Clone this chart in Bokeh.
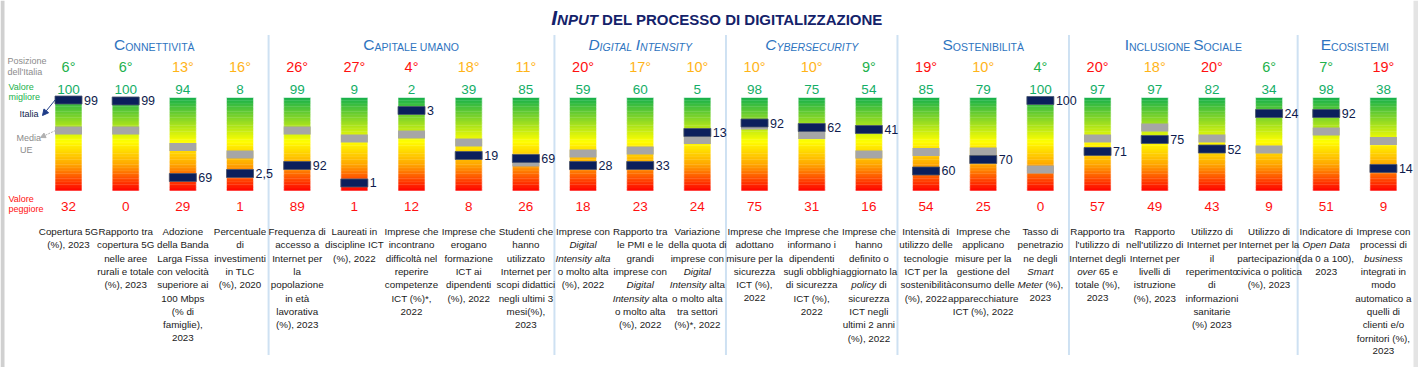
from bokeh.plotting import figure
from bokeh.models import ColumnDataSource, Range1d, Arrow, NormalHead
from bokeh.core.properties import value
from bokeh.embed import file_html
from bokeh.resources import INLINE

FONT = "Liberation Sans"

# ---------------- DATA ----------------
group_names = ["Connettività", "Capitale umano", "Digital Intensity", "Cybersecurity",
               "Sostenibilità", "Inclusione Sociale", "Ecosistemi"]
group_sizes = [4, 5, 3, 3, 3, 4, 2]
group_italic = [False, False, True, True, False, False, False]

rank_italia = [6, 6, 13, 16, 26, 27, 4, 18, 11, 20, 17, 10, 10, 10, 9, 19, 10, 4, 20, 18, 20, 6, 7, 19]
rank_band = ["alta", "alta", "media", "media", "bassa", "bassa", "bassa", "media", "media", "bassa",
             "media", "media", "media", "media", "alta", "bassa", "media", "alta", "bassa", "media",
             "bassa", "alta", "alta", "bassa"]
valore_migliore = [100, 100, 94, 8, 99, 9, 2, 39, 85, 59, 60, 5, 98, 75, 54, 85, 79, 100, 97, 97, 82, 34, 98, 38]
valore_peggiore = [32, 0, 29, 1, 89, 1, 12, 8, 26, 18, 23, 24, 75, 31, 16, 54, 25, 0, 57, 49, 43, 9, 51, 9]
valore_italia = ["99", "99", "69", "2,5", "92", "1", "3", "19", "69", "28", "33", "13", "92", "62", "41",
                 "60", "70", "100", "71", "75", "52", "24", "92", "14"]
# position on the normalised scale (0 = valore peggiore, 100 = valore migliore)
score_italia = [97.3, 96.3, 14.4, 18.7, 27.3, 8.6, 86.1, 38.0, 34.8, 27.3, 27.3, 62.6, 72.7, 67.9, 65.8,
                21.4, 33.7, 96.8, 42.2, 55.1, 44.9, 82.9, 82.9, 24.1]
score_media_ue = [64.7, 64.7, 47.1, 39.0, 64.7, 56.1, 60.4, 51.9, 30.5, 40.1, 43.3, 54.5, 70.1, 59.9, 39.0,
                  41.7, 42.2, 23.0, 56.1, 67.9, 56.1, 44.4, 63.6, 53.5]
# words between underscores are set in italics
descrizioni = [
    ["Copertura 5G", "(%), 2023"],
    ["Rapporto tra", "copertura 5G", "nelle aree", "rurali e totale", "(%), 2023"],
    ["Adozione", "della Banda", "Larga Fissa", "con velocità", "superiore ai", "100 Mbps", "(% di", "famiglie),", "2023"],
    ["Percentuale", "di", "investimenti", "in TLC", "(%), 2020"],
    ["Frequenza di", "accesso a", "Internet per", "la", "popolazione", "in età", "lavorativa", "(%), 2023"],
    ["Laureati in", "discipline ICT", "(%), 2022"],
    ["Imprese che", "incontrano", "difficoltà nel", "reperire", "competenze", "ICT (%)*,", "2022"],
    ["Imprese che", "erogano", "formazione", "ICT ai", "dipendenti", "(%), 2022"],
    ["Studenti che", "hanno", "utilizzato", "Internet per", "scopi didattici", "negli ultimi 3", "mesi(%),", "2023"],
    ["Imprese con", "_Digital_", "_Intensity alta_", "o molto alta", "(%), 2022"],
    ["Rapporto tra", "le PMI e le", "grandi", "imprese con", "_Digital_", "_Intensity_ alta", "o molto alta", "(%), 2022"],
    ["Variazione", "della quota di", "imprese con", "_Digital_", "_Intensity_ alta", "o molto alta", "tra settori", "(%)*, 2022"],
    ["Imprese che", "adottano", "misure per la", "sicurezza", "ICT (%),", "2022"],
    ["Imprese che", "informano i", "dipendenti", "sugli obblighi", "di sicurezza", "ICT (%),", "2022"],
    ["Imprese che", "hanno", "definito o", "aggiornato la", "_policy_ di", "sicurezza", "ICT negli", "ultimi 2 anni", "(%), 2022"],
    ["Intensità di", "utilizzo delle", "tecnologie", "ICT per la", "sostenibilità", "(%), 2022"],
    ["Imprese che", "applicano", "misure per la", "gestione del", "consumo delle", "apparecchiature", "ICT (%), 2022"],
    ["Tasso di", "penetrazio", "ne degli", "_Smart_", "_Meter_ (%),", "2023"],
    ["Rapporto tra", "l'utilizzo di", "Internet degli", "_over_ 65 e", "totale (%),", "2023"],
    ["Rapporto", "nell'utilizzo di", "Internet per", "livelli di", "istruzione", "(%), 2023"],
    ["Utilizzo di", "Internet per", "il", "reperimento", "di", "informazioni", "sanitarie", "(%) 2023"],
    ["Utilizzo di", "Internet per la", "partecipazione", "civica o politica", "(%), 2023"],
    ["Indicatore di", "_Open Data_", "(da 0 a 100),", "2023"],
    ["Imprese con", "processi di", "_business_", "integrati in", "modo", "automatico a", "quelli di", "clienti e/o", "fornitori (%),", "2023"],
]
legend_texts = ["Posizione", "dell'Italia", "Valore", "migliore", "Italia", "Media", "UE", "Valore", "peggiore"]
title_text = ("Input", " del processo di digitalizzazione")

# ---------------- LAYOUT HELPERS ----------------
N = len(valore_migliore)
COL_PX = 57.17
X0 = 68.0
BAR_BOT, BAR_TOP = 190.5, 97.0
PX_PER_UNIT_Y = (BAR_BOT - BAR_TOP) / 100.0
FIG_W, FIG_H = 1418, 367


def X(rx):
    return (rx - X0) / COL_PX


def Y(ry):
    return (BAR_BOT - ry) / PX_PER_UNIT_Y


xs, xe = X(0), X(FIG_W)
ys, ye = Y(FIG_H), Y(0)

W_REG = {' ': 278, '!': 278, '"': 355, '%': 889, '&': 667, "'": 191, '(': 333, ')': 333, '*': 389,
         '+': 584, ',': 278, '-': 333, '.': 278, '/': 278, ':': 278, ';': 278, '?': 556, '°': 400,
         'A': 667, 'B': 667, 'C': 722, 'D': 722, 'E': 667, 'F': 611, 'G': 778, 'H': 722, 'I': 278,
         'J': 500, 'K': 667, 'L': 556, 'M': 833, 'N': 722, 'O': 778, 'P': 667, 'Q': 778, 'R': 722,
         'S': 667, 'T': 611, 'U': 722, 'V': 667, 'W': 944, 'X': 667, 'Y': 667, 'Z': 611, 'À': 667,
         'a': 556, 'b': 556, 'c': 500, 'd': 556, 'e': 556, 'f': 278, 'g': 556, 'h': 556, 'i': 222,
         'j': 222, 'k': 500, 'l': 222, 'm': 833, 'n': 556, 'o': 556, 'p': 556, 'q': 556, 'r': 333,
         's': 500, 't': 278, 'u': 556, 'v': 500, 'w': 722, 'x': 500, 'y': 500, 'z': 500,
         'à': 556, 'è': 556, 'é': 556, 'ì': 278, 'ò': 556, 'ù': 556}
for d in "0123456789":
    W_REG[d] = 556
W_BOLD = dict(W_REG)
W_BOLD.update({'A': 722, 'B': 722, 'J': 556, 'K': 722, 'L': 611, 'R': 722, 'À': 722})


def text_w(s, size, bold=False):
    tbl = W_BOLD if bold else W_REG
    return sum(tbl.get(ch, 556) for ch in s) * size / 1000.0 / COL_PX


T = dict(x=[], y=[], text=[], size=[], color=[], style=[], align=[])


def add_text(x, base_px, s, size, color, style="normal", align="left"):
    # base_px: wanted baseline (picture px); drawn with a middle baseline on the cap centre
    T["x"].append(x); T["y"].append(Y(base_px - 0.355 * size)); T["text"].append(s)
    T["size"].append(f"{size}px"); T["color"].append(color); T["style"].append(style)
    T["align"].append(align)


def place_segments(xc, base_px, segs, color):
    total = sum(text_w(s, sz, "bold" in st) for s, sz, st in segs)
    x = xc - total / 2.0
    for s, sz, st in segs:
        lead = len(s) - len(s.lstrip(" "))
        core = s.strip(" ")
        if core:
            add_text(x + text_w(s[:lead], sz, "bold" in st), base_px, core, sz, color, st, "left")
        x += text_w(s, sz, "bold" in st)


def smallcaps(s, big, small, style):
    segs = []
    for ch in s:
        sz = big if ch.isupper() else small
        c = ch.upper()
        if segs and segs[-1][1] == sz:
            segs[-1] = (segs[-1][0] + c, sz, style)
        else:
            segs.append((c, sz, style))
    return segs


# ---------------- FIGURE ----------------
p = figure(width=FIG_W, height=FIG_H, x_range=Range1d(xs, xe), y_range=Range1d(ys, ye),
           x_axis_type=None, y_axis_type=None, output_backend="svg", toolbar_location=None,
           min_border=0)
p.grid.visible = False
p.outline_line_color = None
p.background_fill_color = "white"
p.border_fill_color = "white"

# side frame strips of the original picture
p.quad(left=[X(0), X(1413)], right=[X(4), X(1418)], bottom=[Y(367)] * 2, top=[Y(0)] * 2,
       fill_color=["#d0d0d0", "#e4e4e4"], line_color=None)

cols = list(range(N))
HALF = 13.5 / COL_PX

# gradient bars
stops = [(0.0, (20, 176, 76)), (0.47, (255, 255, 0)), (0.72, (255, 165, 0)), (1.0, (255, 0, 0))]


def grad(t):
    for (t0, c0), (t1, c1) in zip(stops[:-1], stops[1:]):
        if t <= t1:
            f = (t - t0) / (t1 - t0)
            return "#%02x%02x%02x" % tuple(int(round(a + (b - a) * f)) for a, b in zip(c0, c1))
    return "#ff0000"


NS = 60
q = dict(left=[], right=[], bottom=[], top=[], color=[])
for i in cols:
    for k in range(NS):
        b = k * 100.0 / NS
        tp = (k + 1) * 100.0 / NS + (0.4 if k < NS - 1 else 0)
        q["left"].append(i - HALF); q["right"].append(i + HALF)
        q["bottom"].append(b); q["top"].append(tp)
        q["color"].append(grad(1 - (k + 0.5) / NS))
p.quad(left="left", right="right", bottom="bottom", top="top", fill_color="color",
       line_color=None, source=ColumnDataSource(q))
# faint light rim around each bar
p.quad(left=[i - HALF for i in cols], right=[i + HALF for i in cols], bottom=[0] * N, top=[100] * N,
       fill_color=None, line_color="white", line_alpha=0.55, line_width=1)

MH = 8 / PX_PER_UNIT_Y
p.rect(x=cols, y=score_media_ue, width=2 * HALF, height=MH, fill_color="#a6a6a6", line_color=None)
p.rect(x=cols, y=score_italia, width=2 * HALF, height=MH, fill_color="#0b1f5c",
       line_color="#4a5670", line_width=0.8)

# separators between groups
bounds = []
acc = 0
for g in group_sizes[:-1]:
    acc += g
    bounds.append(acc - 0.5)
p.segment(x0=bounds, y0=[Y(35)] * len(bounds), x1=bounds, y1=[Y(355)] * len(bounds),
          line_color="#9dc3e6", line_width=2, line_dash="1 1")

# colours
GREEN_RANK = "#22b14c"
GREEN_VAL = "#13ae67"
ORANGE = "#ffb418"
RED = "#ff1010"
NAVY = "#0e1b4d"
band_color = {"alta": GREEN_RANK, "media": ORANGE, "bassa": RED}

DESC_SIZE = 9.8
LINE_H = 13.33

LAB = dict(x=[], y=[], text=[])
for i in cols:
    add_text(i, 72, f"{rank_italia[i]}°", 14.5, band_color[rank_band[i]], align="center")
    add_text(i, 94, str(valore_migliore[i]), 13.5, GREEN_VAL, align="center")
    add_text(i, 211, str(valore_peggiore[i]), 13.5, RED, align="center")
    LAB["x"].append(i + HALF + 2 / COL_PX); LAB["y"].append(score_italia[i]); LAB["text"].append(valore_italia[i])
    for k, line in enumerate(descrizioni[i]):
        base = 234.5 + LINE_H * k
        if "_" not in line:
            add_text(i, base, line, DESC_SIZE, "#1a1a1a", align="center")
        else:
            parts = line.split("_")
            segs = [(s, DESC_SIZE, "italic" if j % 2 else "normal") for j, s in enumerate(parts) if s]
            place_segments(i, base, segs, "#1a1a1a")

# group headers (small caps)
start = 0
for name, g, it in zip(group_names, group_sizes, group_italic):
    xc = start + (g - 1) / 2.0
    place_segments(xc, 50, smallcaps(name, 15.5, 10.5, "italic" if it else "normal"), "#2e74c0")
    start += g

# title
segs = smallcaps(title_text[0], 21, 15, "bold italic") + smallcaps(title_text[1], 21, 15, "bold")
place_segments(X(717), 24, segs, "#14226a")

# left legend
GRAY = "#8c8c8c"
LS = 9
add_text(X(7), 63.5, legend_texts[0], LS, GRAY)
add_text(X(7), 75, legend_texts[1], LS, GRAY)
add_text(X(8), 89.5, legend_texts[2], LS, GREEN_RANK)
add_text(X(8), 100, legend_texts[3], LS, GREEN_RANK)
add_text(X(19), 116.5, legend_texts[4], LS, NAVY)
add_text(X(16), 140.5, legend_texts[5], LS, GRAY)
add_text(X(19.5), 152.5, legend_texts[6], LS, GRAY)
add_text(X(8), 202, legend_texts[7], LS, RED)
add_text(X(8), 212, legend_texts[8], LS, RED)

p.add_layout(Arrow(x_start=X(55), y_start=Y(99), x_end=X(42), y_end=Y(115),
                   line_color="#1f3c88", line_width=1,
                   end=NormalHead(size=6, fill_color="#1f3c88", line_color="#1f3c88")))
p.add_layout(Arrow(x_start=X(55), y_start=Y(130), x_end=X(40), y_end=Y(137),
                   line_color="#b0b0b0", line_width=1, line_dash="2 1",
                   end=NormalHead(size=5, fill_color="#b0b0b0", line_color="#b0b0b0")))

p.text(x="x", y="y", text="text", text_font_size="size", text_color="color",
       text_font_style="style", text_align="align", text_baseline="middle",
       text_font=value(FONT), source=ColumnDataSource(T))
p.text(x="x", y="y", text="text", text_font_size="12.5px", text_color=NAVY,
       text_align="left", text_baseline="middle", text_font=value(FONT),
       source=ColumnDataSource(LAB))

open("out.html", "w").write(file_html(p, INLINE))
